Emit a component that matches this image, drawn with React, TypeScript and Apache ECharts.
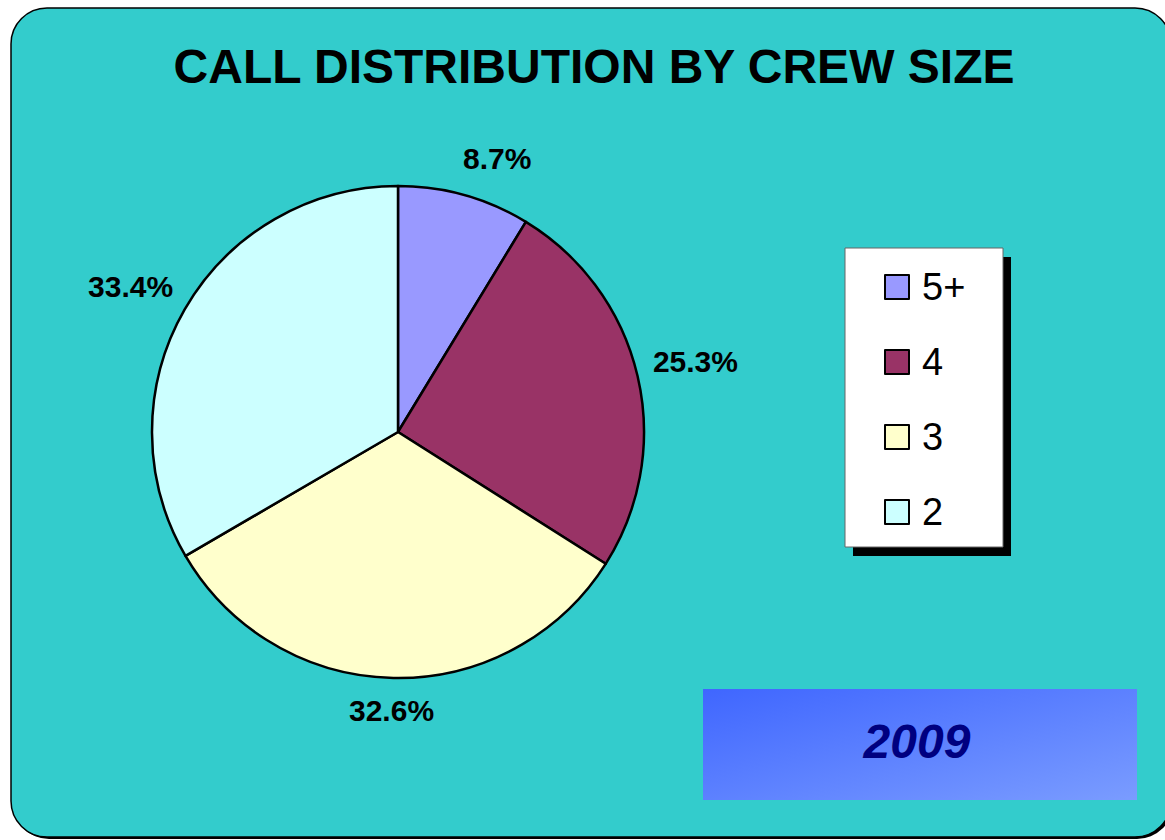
import React, { useEffect, useRef } from "react";
import * as echarts from "echarts";

const categories = ["5+", "4", "3", "2"];
const shares = [8.7, 25.3, 32.6, 33.4];
const sliceColors = ["#9999FF", "#993366", "#FFFFCC", "#CCFFFF"];
const chartTitle = "CALL DISTRIBUTION BY CREW SIZE";
const yearLabel = "2009";

const FONT = "'Liberation Sans', Arial, Helvetica, sans-serif";
const CX = 398;
const CY = 432;
const R = 246;
const LABEL_R = 290;
// small tweaks to emulate the original spreadsheet label placement
const labelNudge = [
  [21, 6],
  [15, -5],
  [-1, -11],
  [-16, -1],
];

export default function App() {
  const ref = useRef<HTMLDivElement>(null);

  useEffect(() => {
    document.body.style.margin = "0";
    const chart = echarts.init(ref.current!, null, { renderer: "svg" });
    const total = shares.reduce((a, b) => a + b, 0);
    const midAngles: number[] = [];
    let acc = 0;
    shares.forEach((v) => {
      midAngles.push(((acc + v / 2) / total) * Math.PI * 2);
      acc += v;
    });

    chart.setOption({
      animation: false,
      backgroundColor: "#FFFFFF",
      textStyle: { fontFamily: FONT },
      graphic: [
        {
          type: "rect",
          z: -10,
          shape: { x: 13, y: 10, width: 1160, height: 829, r: 36 },
          style: { fill: "#000000" },
        },
        {
          type: "rect",
          z: -9,
          shape: { x: 11, y: 8, width: 1160, height: 829, r: 36 },
          style: { fill: "#33CCCC", stroke: "#000000", lineWidth: 1.5 },
        },
        {
          type: "text",
          z: 5,
          x: 594,
          y: 66,
          style: {
            text: chartTitle,
            font: `bold 48px ${FONT}`,
            fill: "#000000",
            align: "center",
            verticalAlign: "middle",
          },
        },
        {
          type: "rect",
          z: -5,
          shape: { x: 853, y: 257, width: 158, height: 299 },
          style: { fill: "#000000" },
        },
        {
          type: "rect",
          z: -4,
          shape: { x: 845, y: 248, width: 158, height: 299 },
          style: { fill: "#FFFFFF", stroke: "#666666", lineWidth: 1 },
        },
        {
          type: "rect",
          z: -4,
          shape: { x: 703, y: 689, width: 434, height: 111 },
          style: {
            fill: new echarts.graphic.LinearGradient(0, 0, 1, 1, [
              { offset: 0, color: "#3F66FF" },
              { offset: 1, color: "#7A9CFF" },
            ]),
          },
        },
        {
          type: "text",
          z: 5,
          x: 917,
          y: 741,
          style: {
            text: yearLabel,
            font: `italic bold 48px ${FONT}`,
            fill: "#000080",
            align: "center",
            verticalAlign: "middle",
          },
        },
      ],
      legend: {
        orient: "vertical",
        left: 884,
        top: 268,
        itemWidth: 24,
        itemHeight: 24,
        itemGap: 37,
        icon: "rect",
        padding: 0,
        data: categories,
        itemStyle: { borderColor: "#000000", borderWidth: 2 },
        textStyle: {
          fontFamily: FONT,
          fontSize: 38,
          color: "#000000",
          padding: [0, 0, 0, 8],
        },
        selectedMode: false,
      },
      series: [
        {
          type: "pie",
          center: [CX, CY],
          radius: [0, R],
          startAngle: 90,
          clockwise: true,
          color: sliceColors,
          itemStyle: { borderColor: "#000000", borderWidth: 2.5 },
          label: {
            show: true,
            position: "outside",
            formatter: (p: any) => `${shares[p.dataIndex].toFixed(1)}%`,
            fontFamily: FONT,
            fontSize: 30,
            fontWeight: "bold",
            color: "#000000",
          },
          labelLine: { show: false },
          labelLayout: (p: any) => {
            const i = p.dataIndex;
            const a = midAngles[i];
            return {
              x: CX + LABEL_R * Math.sin(a) + labelNudge[i][0],
              y: CY - LABEL_R * Math.cos(a) + labelNudge[i][1],
              align: "center",
              verticalAlign: "middle",
            };
          },
          emphasis: { disabled: true },
          data: categories.map((c, i) => ({ name: c, value: shares[i] })),
        },
      ],
    });
    return () => chart.dispose();
  }, []);

  return <div ref={ref} style={{ width: 1165, height: 840 }} />;
}
